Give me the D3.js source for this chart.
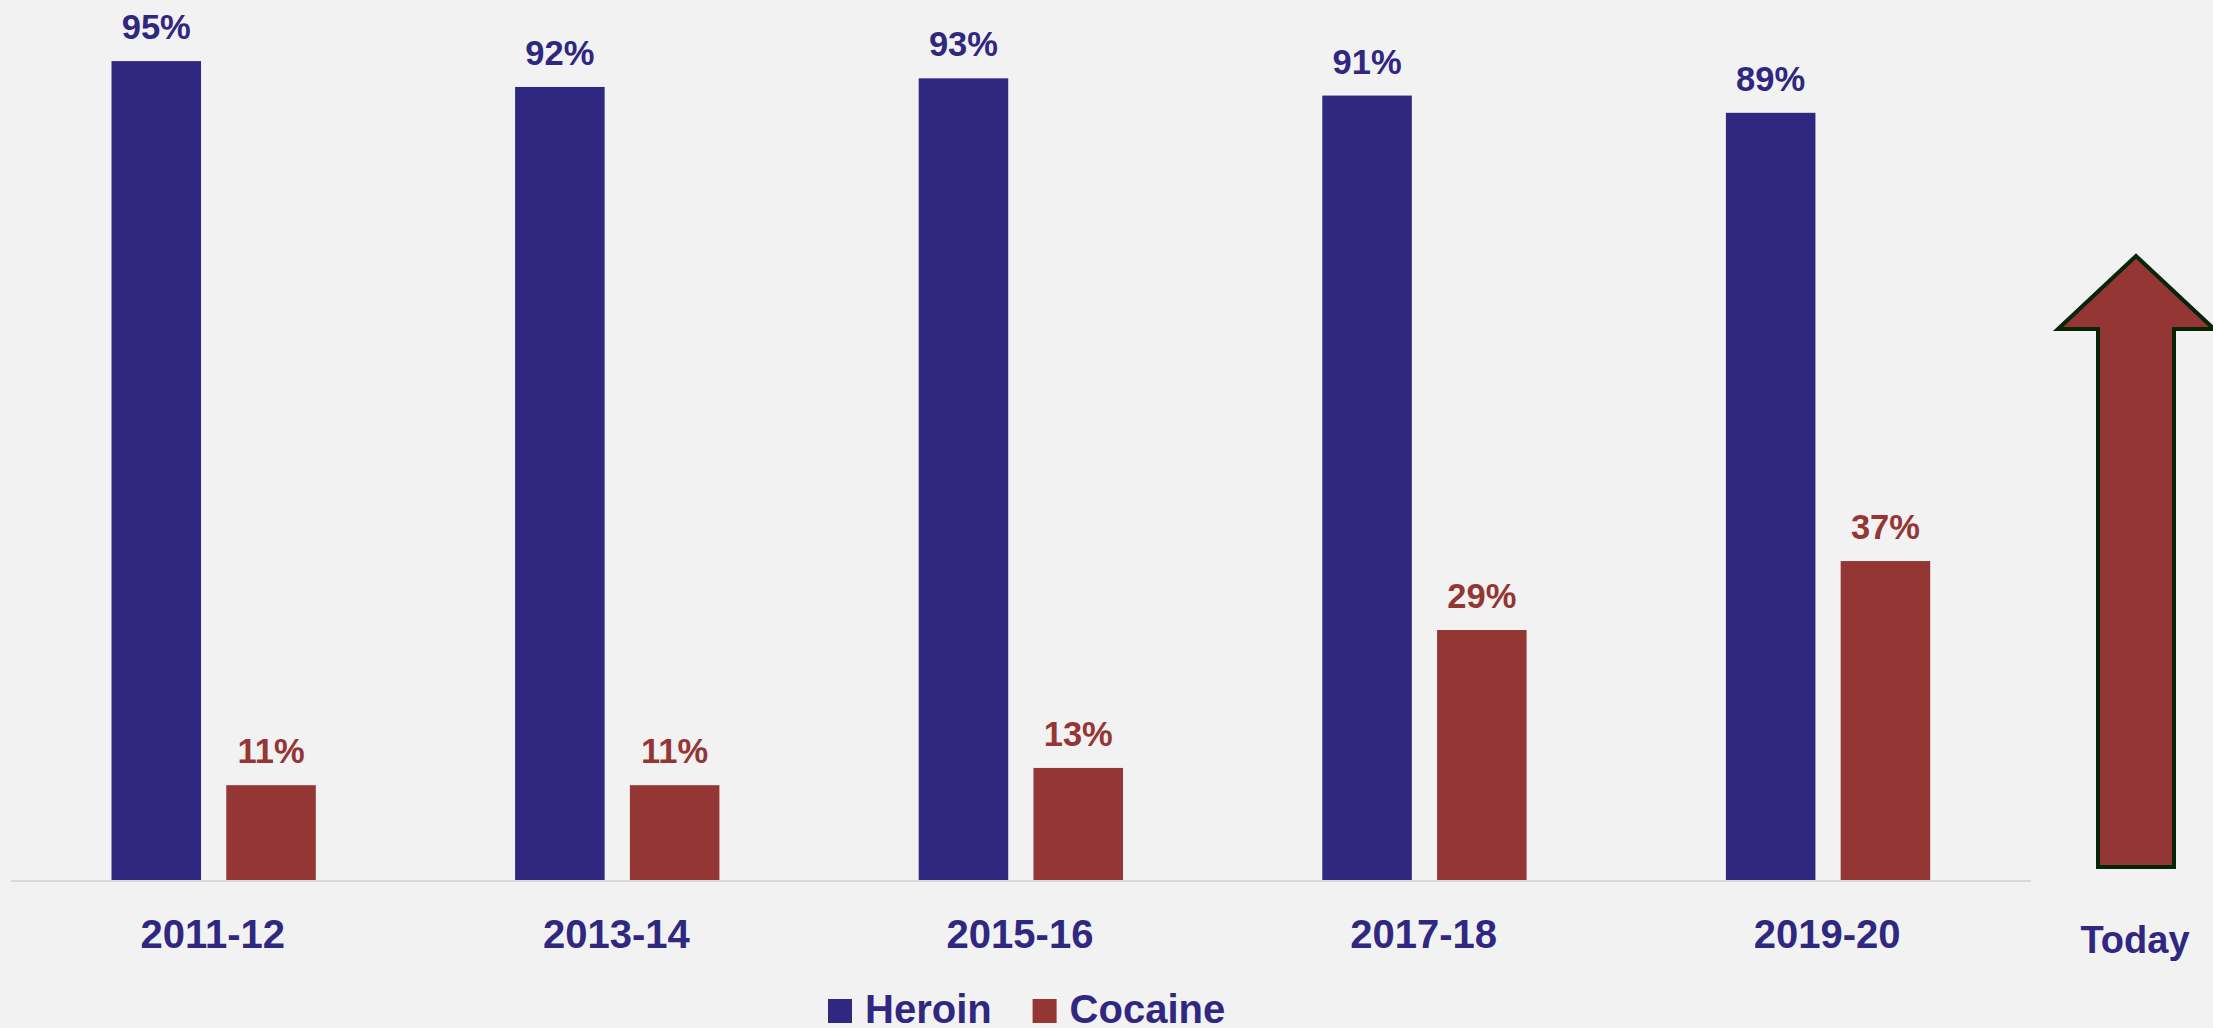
<!DOCTYPE html>
<html>
<head>
<meta charset="utf-8">
<script src="https://cdn.jsdelivr.net/npm/d3@7/dist/d3.min.js"></script>
<style>
  html, body { margin: 0; padding: 0; background: #f2f2f2; }
  svg { display: block; }
  text { font-family: "Liberation Sans", Arial, sans-serif; font-weight: bold; }
</style>
</head>
<body>
<svg id="chart" width="2213" height="1028"></svg>
<script>
const categories = ["2011-12", "2013-14", "2015-16", "2017-18", "2019-20"];
const seriesNames = ["Heroin", "Cocaine"];
const heroin = [95, 92, 93, 91, 89];
const cocaine = [11, 11, 13, 29, 37];
const colors = { Heroin: "#2f2780", Cocaine: "#943634" };
const textBlue = "#2f2780";

const svg = d3.select("#chart");
svg.append("rect").attr("width", 2213).attr("height", 1028).attr("fill", "#f2f2f2");

const x = d3.scaleBand().domain(categories).range([11, 2029]).padding(0);
const xInner = d3.scaleBand().domain(seriesNames).range([100.5, 304.8]).paddingInner(0.22);
const y = d3.scaleLinear().domain([0, 100]).range([880, 18]);

const data = categories.map((c, i) => ({ cat: c, values: [
  { s: "Heroin", v: heroin[i] },
  { s: "Cocaine", v: cocaine[i] }
]}));

const groups = svg.append("g").selectAll("g").data(data).join("g")
  .attr("transform", d => `translate(${x(d.cat)},0)`);

groups.selectAll("rect").data(d => d.values).join("rect")
  .attr("x", d => xInner(d.s))
  .attr("width", xInner.bandwidth())
  .attr("y", d => y(d.v))
  .attr("height", d => y(0) - y(d.v))
  .attr("fill", d => colors[d.s]);

groups.selectAll("text.lbl").data(d => d.values).join("text")
  .attr("class", "lbl")
  .attr("x", d => xInner(d.s) + xInner.bandwidth() / 2)
  .attr("y", d => y(d.v) - 22)
  .attr("text-anchor", "middle")
  .attr("font-size", 34.5)
  .attr("fill", d => colors[d.s])
  .text(d => d.v + "%");

// axis
const xAxis = d3.axisBottom(x).tickSize(0).tickPadding(0);
const ax = svg.append("g").attr("transform", "translate(0,881)").call(xAxis);
ax.select(".domain").attr("stroke", "#d9d9d9").attr("stroke-width", 2).attr("d", "M11,0H2031");
ax.selectAll(".tick text")
  .attr("font-size", 40)
  .attr("fill", textBlue)
  .attr("dy", null)
  .attr("y", 67)
  .style("font-family", "'Liberation Sans', Arial, sans-serif")
  .style("font-weight", "bold");

// Today label
svg.append("text").attr("x", 2135).attr("y", 953).attr("text-anchor", "middle")
  .attr("font-size", 38).attr("fill", textBlue).text("Today");

// Arrow
const cx = 2136;
const arrowPts = [
  [cx, 256], [cx + 78, 329], [cx + 38, 329], [cx + 38, 867],
  [cx - 38, 867], [cx - 38, 329], [cx - 78, 329]
];
svg.append("path")
  .attr("d", d3.line()(arrowPts) + "Z")
  .attr("fill", "#943634")
  .attr("stroke", "#072607")
  .attr("stroke-width", 4)
  .attr("stroke-linejoin", "miter");

// Legend
const legendItems = [
  { s: "Heroin", x: 828 },
  { s: "Cocaine", x: 1032.6 }
];
const lg = svg.append("g").selectAll("g").data(legendItems).join("g")
  .attr("transform", d => `translate(${d.x},999)`);
lg.append("rect").attr("width", 24).attr("height", 24).attr("fill", d => colors[d.s]);
lg.append("text").attr("x", 37).attr("y", 24).attr("font-size", 40)
  .attr("fill", textBlue).text(d => d.s);
</script>
</body>
</html>
